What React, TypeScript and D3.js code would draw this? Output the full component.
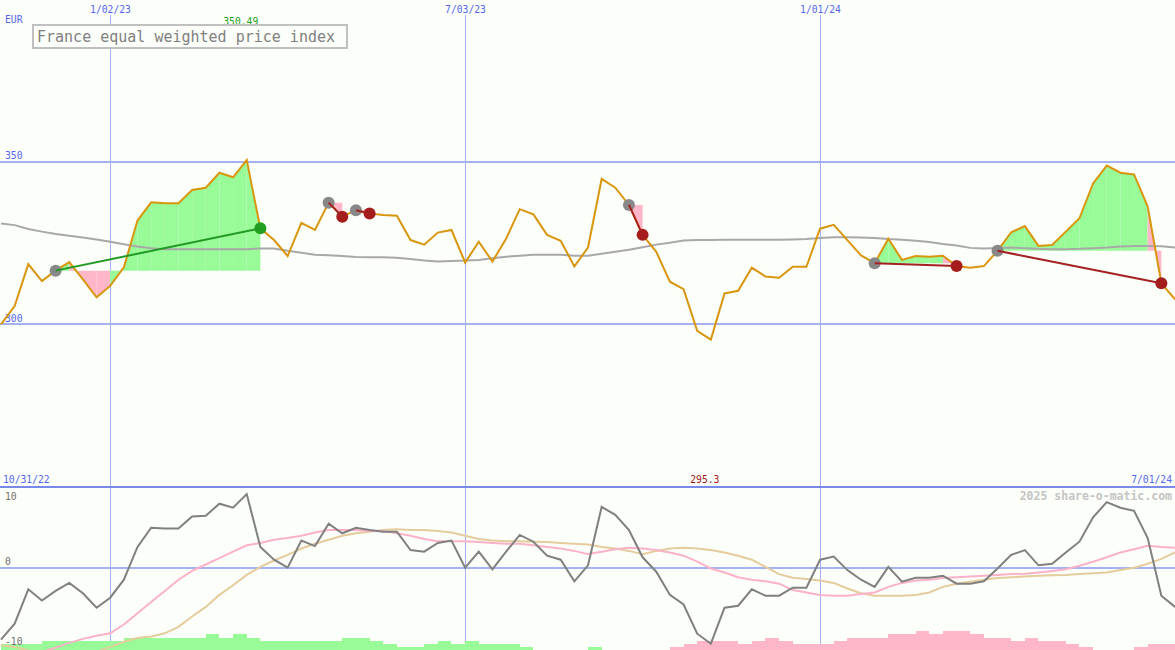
import React from "react";
import * as d3 from "d3";

// ---------- data (weekly closes) ----------
const FIRST_WEEK = "2022-11-07";
const PRICE = [
  300.0, 305.6, 318.5, 313.3, 316.5, 319.1, 313.8, 308.3, 311.8, 317.5,
  331.9, 337.5, 337.2, 337.2, 341.3, 342.0, 346.6, 345.2, 350.49, 329.5,
  325.9, 321.0, 331.2, 329.0, 337.4, 333.1, 335.1, 334.1, 333.6, 333.4,
  325.9, 324.5, 328.2, 329.0, 319.0, 325.4, 319.3, 326.3, 335.4, 333.8,
  327.5, 325.7, 317.8, 323.6, 344.7, 342.0, 336.7, 327.5, 322.3, 313.1,
  310.8, 298.0, 295.3, 309.5, 310.3, 317.4, 314.7, 314.3, 317.7, 317.7,
  329.4, 330.6, 325.9, 321.2, 318.8, 326.3, 319.8, 321.0, 320.8, 321.1,
  317.9, 317.4, 317.9, 322.6, 328.3, 330.2, 324.1, 324.4, 328.5, 332.6,
  343.3, 348.8, 346.6, 346.1, 336.2, 312.6, 307.7,
];
const AVERAGE = [
  331.0, 330.5, 329.3, 328.5, 327.8, 327.2, 326.7, 326.1, 325.4, 324.6,
  323.9, 323.4, 323.1, 323.1, 323.1, 323.1, 323.1, 323.1, 323.1, 323.3,
  323.3, 322.6, 322.0, 321.4, 321.2, 321.0, 320.7, 320.6, 320.6, 320.5,
  320.1, 319.6, 319.3, 319.5, 319.6, 319.8, 320.3, 320.8, 321.1, 321.4,
  321.4, 321.4, 321.1, 321.1, 321.7, 322.3, 322.9, 323.7, 324.5, 325.1,
  325.8, 325.9, 325.9, 326.0, 326.0, 326.0, 326.0, 326.0, 326.1, 326.2,
  326.5, 326.8, 326.8, 326.7, 326.5, 326.2, 326.0, 325.7, 325.3, 324.7,
  324.2, 323.5, 323.3, 323.5, 323.6, 323.4, 323.2, 323.1, 323.1, 323.2,
  323.4, 323.6, 323.9, 324.1, 324.1, 324.0, 323.6,
];
const MOMENTUM = [
  -9.0, -7.0, -2.7, -4.1, -2.9, -1.9, -3.2, -5.0, -3.75, -1.5,
  2.6, 5.0, 4.9, 4.9, 6.4, 6.5, 8.0, 7.5, 9.2, 2.6,
  1.0, 0.0, 3.4, 2.7, 5.5, 4.3, 5.0, 4.7, 4.5, 4.5,
  2.2, 2.0, 3.1, 3.4, 0.0, 2.0, -0.2, 2.0, 4.1, 3.25,
  1.5, 1.0, -1.7, 0.3, 7.6, 6.6, 4.7, 1.3, -0.5, -3.4,
  -4.6, -8.25, -9.5, -5.0, -4.75, -2.7, -3.5, -3.5, -2.5, -2.5,
  1.0, 1.4, -0.3, -1.5, -2.4, 0.1, -1.75, -1.25, -1.25, -1.0,
  -2.0, -2.0, -1.7, -0.1, 1.6, 2.2, 0.3, 0.5, 1.9, 3.25,
  6.3, 8.2, 7.5, 7.1, 3.7, -3.5, -4.9,
];
const FAST_AVG = [
  -12.5, -12.0, -11.2, -10.5, -10.0, -9.4, -8.9, -8.5, -8.2, -7.1,
  -5.7, -4.3, -2.9, -1.5, -0.4, 0.4, 1.2, 2.0, 2.8, 3.1,
  3.5, 3.7, 4.0, 4.4, 4.7, 4.7, 4.7, 4.6, 4.6, 4.3,
  4.0, 3.6, 3.3, 3.3, 3.3, 3.2, 3.1, 3.0, 3.0, 2.8,
  2.6, 2.4, 2.1, 1.7, 2.0, 2.3, 2.5, 2.4, 2.2, 1.9,
  1.5, 0.75, -0.1, -0.6, -1.2, -1.5, -1.7, -2.0, -2.8, -3.1,
  -3.4, -3.5, -3.5, -3.3, -3.1, -2.4, -1.9, -1.6, -1.5, -1.3,
  -1.2, -1.1, -1.0, -0.9, -0.8, -0.75, -0.6, -0.4, -0.2, 0.25,
  0.75, 1.3, 1.9, 2.3, 2.75, 2.6, 2.5,
];
const SLOW_AVG = [
  -9.7, -9.9, -10.3, -10.8, -11.0, -11.0, -10.9, -10.5, -9.9, -9.25,
  -8.8, -8.6, -8.2, -7.4, -6.1, -4.9, -3.4, -2.2, -0.9, 0.1,
  0.9, 1.6, 2.4, 3.0, 3.5, 4.0, 4.3, 4.5, 4.7, 4.8,
  4.7, 4.7, 4.6, 4.4, 4.0, 3.6, 3.4, 3.3, 3.3, 3.25,
  3.2, 3.1, 3.0, 2.9, 2.6, 2.4, 2.1, 1.7, 2.1, 2.4,
  2.5, 2.4, 2.2, 1.9, 1.5, 1.0, 0.1, -0.8, -1.25, -1.4,
  -1.6, -1.9, -2.6, -3.2, -3.5, -3.5, -3.5, -3.4, -3.1, -2.4,
  -2.0, -1.75, -1.5, -1.3, -1.2, -1.1, -1.0, -0.95, -0.9, -0.8,
  -0.7, -0.6, -0.3, 0.0, 0.5, 1.1, 1.9,
];
const STRENGTH = [
  2, 2, 2, 3, 3, 3, 3, 3, 3, 4,
  4, 4, 4, 4, 4, 5, 4, 5, 4, 3,
  3, 3, 3, 3, 3, 4, 4, 3, 2, 1,
  1, 2, 3, 2, 3, 2, 2, 2, 1, 0,
  0, 0, 0, 1, 0, 0, 0, 0, 0, -1,
  -2, -3, -3, -3, -2, -3, -4, -3, -2, -2,
  -2, -3, -4, -4, -4, -5, -5, -6, -5, -6,
  -6, -5, -4, -4, -3, -4, -3, -3, -2, -1,
  0, 0, 0, -1, -2, -2,
];
const TRADE_ENTRY = [4, 24, 26, 46, 64, 73];
const TRADE_EXIT = [19, 25, 27, 47, 70, 85];
const GRID_DATES = ["2023-01-02", "2023-07-03", "2024-01-01"];
const GRID_LABELS = ["1/02/23", "7/03/23", "1/01/24"];
const PRICE_TICKS = [350, 300];
const OSC_TICKS = [10, 0, -10];
const START_LABEL = "10/31/22";
const END_LABEL = "7/01/24";
const TITLE = "France equal weighted price index";
const CURRENCY = "EUR";
const CREDIT = "2025 share-o-matic.com";

// ---------- styles ----------
const W = 1175;
const H = 650;
const BG = "#fcfefa";
const GRID = "#a4b2f2";
const SEP = "#7a88ea";
const AXIS_TXT = "#5566ee";
const FONT = "'DejaVu Sans Mono', monospace";
const GREEN_FILL = "#98fb98";
const PINK_FILL = "#ffb6c8";

export default function App() {
  const parse = d3.timeParse("%Y-%m-%d");
  const t0 = parse(FIRST_WEEK) as Date;
  const dates = PRICE.map((_, i) => d3.timeDay.offset(t0, 7 * i));
  const x = d3.scaleTime().domain([dates[0], dates[dates.length - 1]]).range([1, W]);
  const yP = d3.scaleLinear().domain([300, 350]).range([324.3, 161.7]);
  const yO = d3.scaleLinear().domain([-10, 10]).range([647.7, 487.7]);
  const yH = d3.scaleLinear().domain([0, 6]).range([650, 631.3]);

  const priceLine = d3.line<number>().x((_, i) => x(dates[i])).y((d) => yP(d));
  const oscLine = d3.line<number>().x((_, i) => x(dates[i])).y((d) => yO(d));

  const iMax = d3.maxIndex(PRICE);
  const iMin = d3.minIndex(PRICE);

  const fills: JSX.Element[] = [];
  TRADE_ENTRY.forEach((s, t) => {
    const e = TRADE_EXIT[t];
    const base = PRICE[s];
    for (let i = s; i < e; i++) {
      const up = PRICE[i + 1] >= base;
      const x0 = x(dates[i]);
      const x1 = x(dates[i + 1]);
      const d = `M${x0},${yP(base)}L${x0},${yP(PRICE[i])}L${x1},${yP(PRICE[i + 1])}L${x1},${yP(base)}Z`;
      fills.push(<path key={`f${t}-${i}`} d={d} fill={up ? GREEN_FILL : PINK_FILL} />);
    }
  });

  const txt = { fontFamily: FONT, fontSize: 9.7 } as const;

  return (
    <svg
      width={W}
      height={H}
      style={{ position: "absolute", left: 0, top: 0, display: "block", background: BG }}
    >
      <defs>
        <clipPath id="top">
          <rect x={0} y={0} width={W} height={486} />
        </clipPath>
        <clipPath id="bot">
          <rect x={0} y={488} width={W} height={H - 488} />
        </clipPath>
      </defs>
      <rect x={0} y={0} width={W} height={H} fill={BG} />

      {/* vertical grid */}
      {GRID_DATES.map((g, k) => {
        const gx = Math.floor(x(parse(g) as Date)) + 0.5;
        return (
          <g key={g}>
            <line x1={gx} x2={gx} y1={15} y2={H} stroke={GRID} strokeWidth={1} shapeRendering="crispEdges" />
            <text x={gx} y={9} textAnchor="middle" dominantBaseline="central" fill={AXIS_TXT} {...txt}>
              {GRID_LABELS[k]}
            </text>
          </g>
        );
      })}

      {/* horizontal price grid */}
      {PRICE_TICKS.map((v) => (
        <g key={v}>
          <line x1={0} x2={W} y1={yP(v)} y2={yP(v)} stroke={GRID} strokeWidth={2} shapeRendering="crispEdges" />
          <text x={5} y={yP(v) - 6} dominantBaseline="central" fill={AXIS_TXT} {...txt}>
            {v}
          </text>
        </g>
      ))}

      {/* lower panel histogram */}
      <g clipPath="url(#bot)">
        {STRENGTH.map((v, k) =>
          v === 0 ? null : (
            <rect
              key={k}
              x={x(dates[k])}
              width={x(dates[k + 1]) - x(dates[k])}
              y={yH(Math.abs(v))}
              height={yH(0) - yH(Math.abs(v))}
              fill={v > 0 ? GREEN_FILL : PINK_FILL}
              shapeRendering="crispEdges"
            />
          )
        )}
      </g>
      <line x1={0} x2={W} y1={yO(0)} y2={yO(0)} stroke={GRID} strokeWidth={2} shapeRendering="crispEdges" />
      <g clipPath="url(#bot)">
        <path d={oscLine(SLOW_AVG) || ""} fill="none" stroke="#e4cc9c" strokeWidth={2} />
        <path d={oscLine(FAST_AVG) || ""} fill="none" stroke="#fbb2c8" strokeWidth={2} />
        <path d={oscLine(MOMENTUM) || ""} fill="none" stroke="#808080" strokeWidth={2} />
      </g>
      {OSC_TICKS.map((v) => (
        <text
          key={v}
          x={5}
          y={v === 10 ? yO(v) + 9 : yO(v) - 6}
          dominantBaseline="central"
          fill="#707070"
          {...txt}
        >
          {v}
        </text>
      ))}

      {/* top panel */}
      <g clipPath="url(#top)">
        {fills}
        <path d={priceLine(AVERAGE) || ""} fill="none" stroke="#a8a8a8" strokeWidth={2} />
        <path d={priceLine(PRICE) || ""} fill="none" stroke="#d8960e" strokeWidth={2} />
        {TRADE_ENTRY.map((s, t) => {
          const e = TRADE_EXIT[t];
          const win = PRICE[e] > PRICE[s];
          return (
            <g key={`t${t}`}>
              <circle cx={x(dates[s])} cy={yP(PRICE[s])} r={6} fill="#888888" />
              <circle cx={x(dates[e])} cy={yP(PRICE[e])} r={6} fill={win ? "#22a022" : "#a51c1c"} />
              <line
                x1={x(dates[s])}
                y1={yP(PRICE[s])}
                x2={x(dates[e])}
                y2={yP(PRICE[e])}
                stroke={win ? "#229922" : "#a52020"}
                strokeWidth={2}
              />
            </g>
          );
        })}
      </g>

      {/* separator */}
      <line x1={0} x2={W} y1={486.7} y2={486.7} stroke={SEP} strokeWidth={2} shapeRendering="crispEdges" />

      {/* labels */}
      <text x={5} y={19} dominantBaseline="central" fill={AXIS_TXT} {...txt}>
        {CURRENCY}
      </text>
      <text x={x(dates[iMax]) - 6} y={21} textAnchor="middle" dominantBaseline="central" fill="#22a022" {...txt}>
        {PRICE[iMax].toFixed(2)}
      </text>
      <text x={x(dates[iMin]) - 6} y={479} textAnchor="middle" dominantBaseline="central" fill="#a01818" {...txt}>
        {String(PRICE[iMin])}
      </text>
      <text x={3} y={479} dominantBaseline="central" fill={AXIS_TXT} {...txt}>
        {START_LABEL}
      </text>
      <text x={1172} y={479} textAnchor="end" dominantBaseline="central" fill={AXIS_TXT} {...txt}>
        {END_LABEL}
      </text>
      <text
        x={1172}
        y={496}
        textAnchor="end"
        dominantBaseline="central"
        fill="#c4c4c4"
        fontWeight="bold"
        fontFamily={FONT}
        fontSize={11.5}
      >
        {CREDIT}
      </text>

      {/* title box */}
      <rect x={33} y={25} width={314} height={23} fill={BG} stroke="#c0c0c0" strokeWidth={2} />
      <text x={37} y={36.5} dominantBaseline="central" fill="#808080" fontFamily={FONT} fontSize={15}>
        {TITLE}
      </text>
    </svg>
  );
}
